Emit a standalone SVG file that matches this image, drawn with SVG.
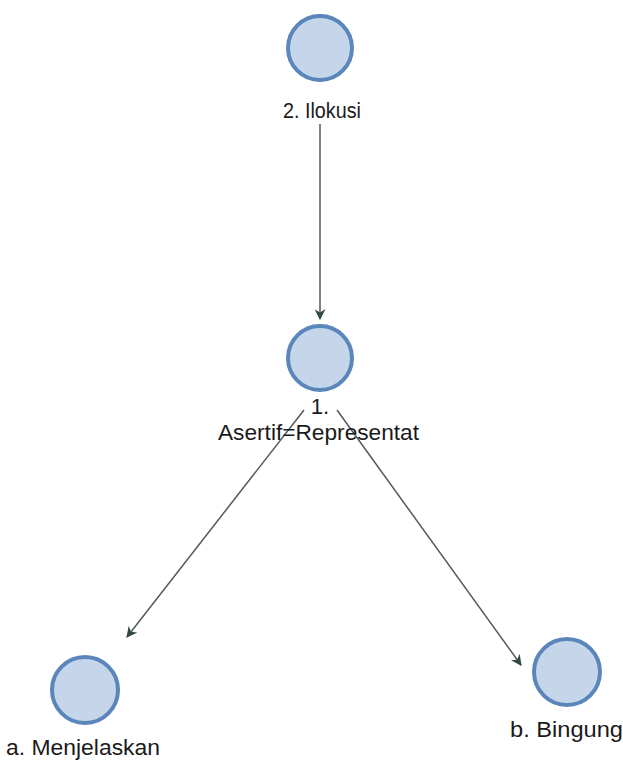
<svg xmlns="http://www.w3.org/2000/svg" width="623" height="765" viewBox="0 0 623 765">
<defs>
<style>
.node circle{fill:#c6d6ea;stroke:#5a86bb;stroke-width:4}
.lbl{font-family:"Liberation Sans",Arial,sans-serif;font-size:22px;fill:#1a1a1a;text-anchor:middle}
.edge{stroke:#505a58;stroke-width:1.5;fill:none;marker-end:url(#arr)}
</style>
<marker id="arr" viewBox="0 0 10 10" refX="9" refY="5" markerWidth="11" markerHeight="11" markerUnits="userSpaceOnUse" orient="auto">
<path d="M0,0 L10,5 L0,10 L3,5 Z" fill="#2f4a45"/>
</marker>
</defs>
<rect width="623" height="765" fill="#ffffff"/>
<g id="connectors">
<line class="edge" x1="320" y1="124" x2="320" y2="319"/>
<line class="edge" x1="304" y1="410" x2="127" y2="637"/>
<line class="edge" x1="337" y1="410" x2="521" y2="665"/>
</g>
<g id="n2" class="node"><circle cx="320" cy="48" r="32"/><text class="lbl" x="322" y="118" textLength="78" lengthAdjust="spacingAndGlyphs">2. Ilokusi</text></g>
<g id="n1" class="node"><circle cx="320" cy="358" r="32"/><text class="lbl" x="320" y="414">1.</text><text class="lbl" x="318.5" y="440" textLength="201" lengthAdjust="spacingAndGlyphs">Asertif=Representat</text></g>
<g id="na" class="node"><circle cx="85" cy="690" r="33"/><text class="lbl" x="83" y="755" textLength="154" lengthAdjust="spacingAndGlyphs">a. Menjelaskan</text></g>
<g id="nb" class="node"><circle cx="567" cy="672" r="33"/><text class="lbl" x="566.5" y="737" textLength="113" lengthAdjust="spacingAndGlyphs">b. Bingung</text></g>
</svg>
